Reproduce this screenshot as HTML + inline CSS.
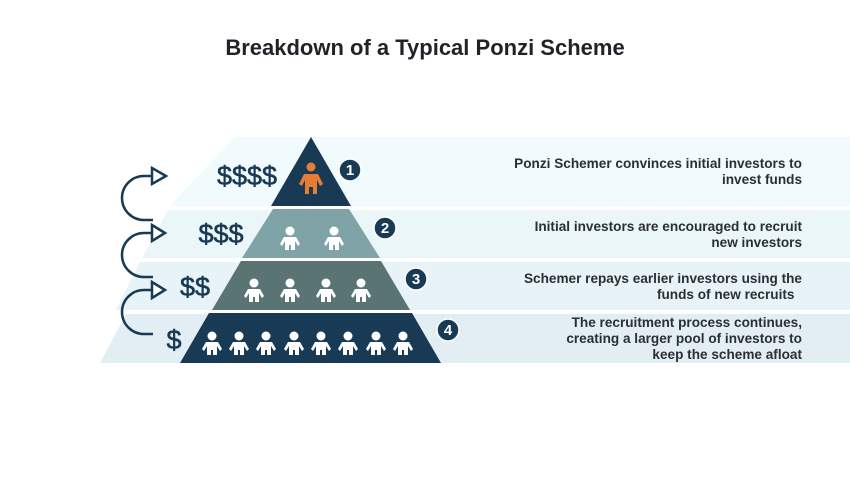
<!DOCTYPE html>
<html><head><style>
body{margin:0;width:850px;height:478px;background:#fff;overflow:hidden;position:relative;font-family:"Liberation Sans",sans-serif}
.t{position:absolute;right:48px;text-align:right;font-weight:bold;font-size:13.6px;line-height:16px;color:#2a2f33}
h1{position:absolute;top:35px;left:0;width:850px;text-align:center;margin:0;font-size:22px;color:#1f2328}
</style></head><body>
<svg width="850" height="478" style="position:absolute;left:0;top:0">
<defs>
<g id="p"><circle cx="0" cy="-9" r="4.5" fill="#fff"/><path d="M-6,-3 H6 L10,4 L8,6 L5,1 V10 H1 V5 H-1 V10 H-5 V1 L-8,6 L-10,4 Z" fill="#fff"/></g>
</defs>
<polygon points="235,137 850,137 850,206 170,206" fill="#f1fafc"/>
<polygon points="168,210 850,210 850,258 142,258" fill="#ebf6f9"/>
<polygon points="140,262 850,262 850,310 116,310" fill="#e8f3f7"/>
<polygon points="126,314 850,314 850,363 100,363" fill="#e3eef4"/>
<polygon points="311,137 351,206 271,206" fill="#183a55"/>
<polygon points="349,209 380,258 242,258 273,209" fill="#80a3a8"/>
<polygon points="381,261 410,310 212,310 241,261" fill="#5a7474"/>
<polygon points="412,313 441,363 180,363 209,313" fill="#183a55"/>
<g fill="#e57d35"><circle cx="311" cy="167" r="4.5"/><path d="M304,174 H318 L323,184 L320,186 L317,180 V194 H313 V187 H309 V194 H305 V180 L302,186 L299,184 Z"/></g>
<use href="#p" x="290" y="240"/><use href="#p" x="334" y="240"/>
<use href="#p" x="254" y="292"/><use href="#p" x="290" y="292"/><use href="#p" x="326" y="292"/><use href="#p" x="361" y="292"/>
<g><use href="#p" x="212" y="345"/><use href="#p" x="239" y="345"/><use href="#p" x="266" y="345"/><use href="#p" x="294" y="345"/><use href="#p" x="321" y="345"/><use href="#p" x="348" y="345"/><use href="#p" x="376" y="345"/><use href="#p" x="403" y="345"/></g>
<g fill="#183a55" stroke="#fff" stroke-width="1.5">
<circle cx="350" cy="170" r="11"/><circle cx="385" cy="228" r="11"/><circle cx="416" cy="279" r="11"/><circle cx="448" cy="330" r="11"/></g>
<g fill="#fff" font-family="Liberation Sans" font-weight="bold" font-size="15" text-anchor="middle">
<text x="350" y="175">1</text><text x="385" y="233">2</text><text x="416" y="284">3</text><text x="448" y="335">4</text></g>
<g fill="#183a55" font-family="Liberation Sans" font-size="27" text-anchor="middle" stroke="#183a55" stroke-width="0.6">
<text x="247" y="185">$$$$</text><text x="221" y="243">$$$</text><text x="195" y="296">$$</text><text x="174" y="349">$</text></g>
<g fill="none" stroke="#183a55" stroke-width="2.5">
<path d="M153,220 H144 A22,22 0 0 1 144,176 H152"/><path d="M152,168 L166,176 L152,184 Z" fill="#fff"/>
<path d="M153,277 H144 A22,22 0 0 1 144,233 H152"/><path d="M152,225 L165,233 L152,241 Z" fill="#fff"/>
<path d="M153,334 H144 A22,22 0 0 1 144,290 H152"/><path d="M152,282 L165,290 L152,298 Z" fill="#fff"/>
</g>
</svg>
<h1>Breakdown of a Typical Ponzi Scheme</h1>
<div class="t" style="top:156px">Ponzi Schemer convinces initial investors to<br>invest funds</div>
<div class="t" style="top:219px">Initial investors are encouraged to recruit<br>new investors</div>
<div class="t" style="top:271px">Schemer repays earlier investors using the<br>funds of new recruits&nbsp;&nbsp;</div>
<div class="t" style="top:315px">The recruitment process continues,<br>creating a larger pool of investors to<br>keep the scheme afloat</div>
</body></html>
